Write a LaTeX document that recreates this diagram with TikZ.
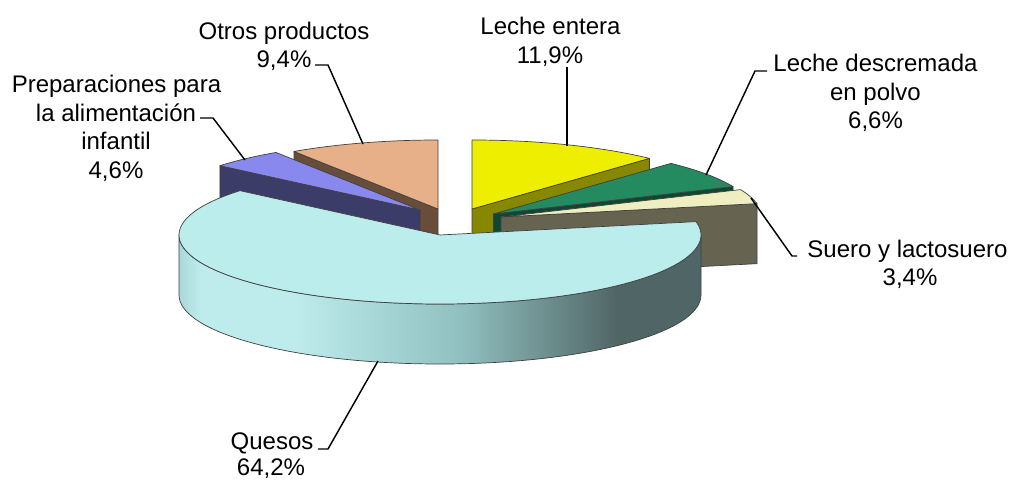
\documentclass[tikz,border=0pt]{standalone}
\usepackage{fontspec}
\setmainfont{Liberation Sans}
\definecolor{yTop}{RGB}{238,238,0}
\definecolor{ySide}{RGB}{136,136,0}
\definecolor{gTop}{RGB}{36,138,96}
\definecolor{gSide}{RGB}{14,72,50}
\definecolor{sTop}{RGB}{238,238,192}
\definecolor{sSide}{RGB}{102,100,80}
\definecolor{pTop}{RGB}{136,136,238}
\definecolor{pSide}{RGB}{60,60,104}
\definecolor{oTop}{RGB}{232,176,136}
\definecolor{oSide}{RGB}{104,78,58}
\definecolor{qTop}{RGB}{188,237,237}
\definecolor{qE}{RGB}{170,215,215}
\definecolor{qL}{RGB}{190,236,236}
\definecolor{qM}{RGB}{145,192,192}
\definecolor{qD}{RGB}{80,102,102}
\pgfdeclarehorizontalshading{queso}{100bp}{color(0bp)=(qE); color(25bp)=(qE); color(27bp)=(qL); color(36bp)=(qL); color(52bp)=(qM); color(67bp)=(qD); color(100bp)=(qD)}
\tikzset{
  edge/.style={draw=black!75, line width=0.7pt, line join=round},
  leader/.style={draw=black, line width=1.45pt},
  lbl/.style={font=\fontsize{24}{28.5}\selectfont, inner sep=0pt, anchor=base},
}
\begin{document}
\begin{tikzpicture}[x=1pt,y=1pt]
\useasboundingbox (0,0) rectangle (1011,480);
\fill[white] (0,0) rectangle (1011,480);
% apices
\coordinate (oA) at (438,271);
\coordinate (pA) at (420,270);
\coordinate (yA) at (472,271);
\coordinate (gA) at (493.5,266);
\coordinate (sA) at (501,263);
\coordinate (qA) at (440,245);
% Otros productos
\path[edge, fill=oSide] (oA) -- ++(123.48:261pt and 69pt) -- ++(0,-60pt) -- ++(303.48:261pt and 69pt) -- cycle;
\path[edge, fill=oTop] (oA) -- ++(90:261pt and 69pt) arc[start angle=90, end angle=123.48, x radius=261pt, y radius=69pt] -- cycle;
% Preparaciones
\path[edge, fill=pSide] (pA) -- ++(140.04:261pt and 69pt) -- ++(0,-60pt) -- ++(320.04:261pt and 69pt) -- cycle;
\path[edge, fill=pTop] (pA) -- ++(123.48:261pt and 69pt) arc[start angle=123.48, end angle=140.04, x radius=261pt, y radius=69pt] -- cycle;
% Leche entera
\path[edge, fill=ySide] (yA) -- ++(47.16:261pt and 69pt) -- ++(0,-60pt) -- ++(227.16:261pt and 69pt) -- cycle;
\path[edge, fill=yTop] (yA) -- ++(47.16:261pt and 69pt) arc[start angle=47.16, end angle=90, x radius=261pt, y radius=69pt] -- cycle;
% Leche descremada
\path[edge, fill=gSide] (gA) -- ++(23.4:261pt and 69pt) -- ++(0,-60pt) -- ++(203.4:261pt and 69pt) -- cycle;
\path[edge, fill=gTop] (gA) -- ++(23.4:261pt and 69pt) arc[start angle=23.4, end angle=47.16, x radius=261pt, y radius=69pt] -- cycle;
% Suero
\path[edge, fill=sSide] (sA) -- ++(11.16:261pt and 69pt) -- ++(0,-60pt) -- ++(191.16:261pt and 69pt) -- cycle;
\path[edge, fill=sTop] (sA) -- ++(11.16:261pt and 69pt) arc[start angle=11.16, end angle=23.4, x radius=261pt, y radius=69pt] -- cycle;
% Quesos
\path[edge, shading=queso] (qA) ++(180:261pt and 69pt) arc[start angle=180, end angle=360, x radius=261pt, y radius=69pt] -- ++(0,-60pt) arc[start angle=360, end angle=180, x radius=261pt, y radius=69pt] -- cycle;
\path[edge, fill=qTop] (qA) -- ++(140.04:261pt and 69pt) arc[start angle=140.04, end angle=371.16, x radius=261pt, y radius=69pt] -- cycle;
% labels
\node[lbl] (otros1) at (284,440) {Otros productos};
\node[lbl] (otros2) at (284,412) {9,4\%};
\node[lbl] (prep1) at (116.5,387) {Preparaciones para};
\node[lbl] (prep2) at (116,358.5) {la alimentación};
\node[lbl] (prep3) at (116,330) {infantil};
\node[lbl] (prep4) at (116,301.5) {4,6\%};
\node[lbl] (ent1) at (550.5,445) {Leche entera};
\node[lbl] (ent2) at (550,416) {11,9\%};
\node[lbl] (desc1) at (875.5,408) {Leche descremada};
\node[lbl] (desc2) at (875.5,379.5) {en polvo};
\node[lbl] (desc3) at (875.5,351) {6,6\%};
\node[lbl] (suero1) at (907.5,223) {Suero y lactosuero};
\node[lbl] (suero2) at (910,195) {3,4\%};
\node[lbl] (ques1) at (272,31) {Quesos};
\node[lbl] (ques2) at (271,4.5) {64,2\%};
% leader points
\coordinate (oL0) at (315,415); \coordinate (oL1) at (328,415); \coordinate (oL2) at (363,336);
\coordinate (pL0) at (200,362); \coordinate (pL1) at (213,362); \coordinate (pL2) at (245,320);
\coordinate (eL0) at (567,413); \coordinate (eL1) at (567,334);
\coordinate (dL0) at (767,409); \coordinate (dL1) at (755,409); \coordinate (dL2) at (706,305);
\coordinate (sL0) at (797,224); \coordinate (sL1) at (792,224); \coordinate (sL2) at (751,282);
\coordinate (qL0) at (318,31); \coordinate (qL1) at (328,31); \coordinate (qL2) at (378,119);
\draw[leader] (oL0) -- (oL1) -- (oL2);
\draw[leader] (pL0) -- (pL1) -- (pL2);
\draw[leader] (eL0) -- (eL1);
\draw[leader] (dL0) -- (dL1) -- (dL2);
\draw[leader] (sL0) -- (sL1) -- (sL2);
\draw[leader] (qL0) -- (qL1) -- (qL2);
\end{tikzpicture}
\end{document}
